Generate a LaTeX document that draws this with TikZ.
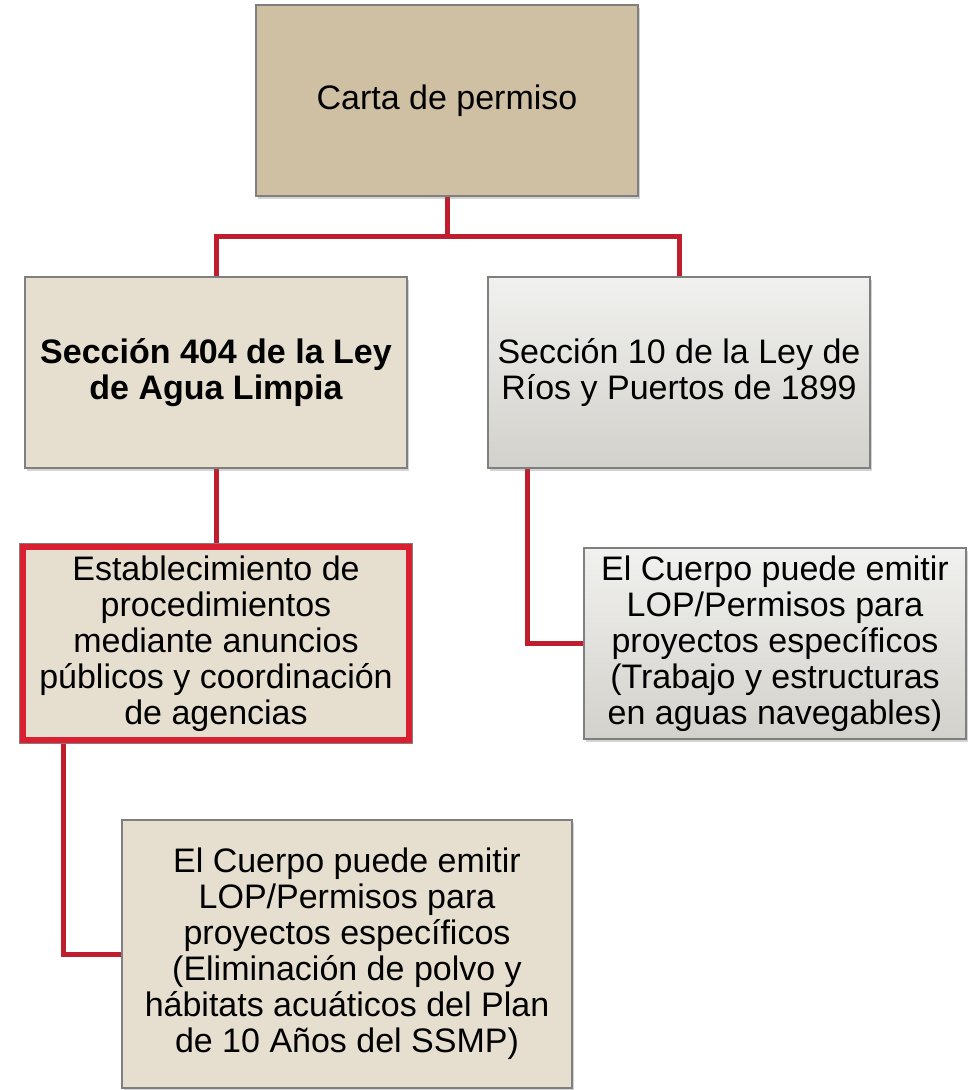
\documentclass[tikz,border=0pt]{standalone}
\usepackage{fontspec}
\setmainfont{Liberation Sans}
\usetikzlibrary{shadows,backgrounds}
\definecolor{conn}{HTML}{BE1E2D}
\definecolor{tan}{HTML}{CFC0A3}
\definecolor{beige}{HTML}{E6DFD0}
\definecolor{bordergray}{HTML}{7F7F7F}
\definecolor{redbox}{HTML}{D91F30}
\definecolor{gtop}{HTML}{F1F1EF}
\definecolor{gbot}{HTML}{D2D1CB}
\tikzset{
  box/.style={draw=bordergray, line width=1.5pt, inner sep=0pt, align=center,
    font=\fontsize{34}{36}\selectfont,
    drop shadow={shadow xshift=2pt, shadow yshift=-3pt, opacity=0.28, fill=black!60}},
  tanbox/.style={box, fill=tan},
  beigebox/.style={box, fill=beige},
  graybox/.style={box, top color=gtop, bottom color=gbot},
  redframe/.style={box, fill=beige, draw=redbox, line width=6pt,
    preaction={draw=bordergray, line width=8.5pt}},
  link/.style={draw=conn, line width=5pt}
}
\begin{document}
\begin{tikzpicture}[x=1pt,y=-1pt]
\useasboundingbox (0,0) rectangle (976,1090);
\node[tanbox, minimum width=382pt, minimum height=191pt] (A) at (447,100.5) {Carta de permiso};
\node[beigebox, minimum width=382pt, minimum height=191pt] (B) at (216,372.5) {\bfseries Sección 404 de la Ley\\\bfseries de Agua Limpia};
\node[graybox, minimum width=382pt, minimum height=191pt] (C) at (679,372.5) {Sección 10 de la Ley de\\Ríos y Puertos de 1899};
\node[redframe, minimum width=386pt, minimum height=193pt] (D) at (216,643.5) {Establecimiento de\\procedimientos\\mediante anuncios\\públicos y coordinación\\de agencias};
\node[graybox, minimum width=382pt, minimum height=191pt] (E) at (775,643.5) {El Cuerpo puede emitir\\LOP/Permisos para\\proyectos específicos\\(Trabajo y estructuras\\en aguas navegables)};
\node[beigebox, minimum width=450pt, minimum height=268pt] (F) at (347,954) {El Cuerpo puede emitir\\LOP/Permisos para\\proyectos específicos\\(Eliminación de polvo y\\hábitats acuáticos del Plan\\de 10 Años del SSMP)};
\coordinate (j) at (447,236);
\coordinate (xl) at (63,0);
\coordinate (xr) at (527,0);
\begin{scope}[on background layer]
\draw[link] (A.south) -- (A.south |- j);
\draw[link] (A.south |- j) -| (B.north);
\draw[link] (A.south |- j) -| (C.north);
\draw[link] (B.south) -- (D.north);
\draw[link] (D.south -| xl) |- (F.west);
\draw[link] (C.south -| xr) |- (E.west);
\end{scope}
\end{tikzpicture}
\end{document}
